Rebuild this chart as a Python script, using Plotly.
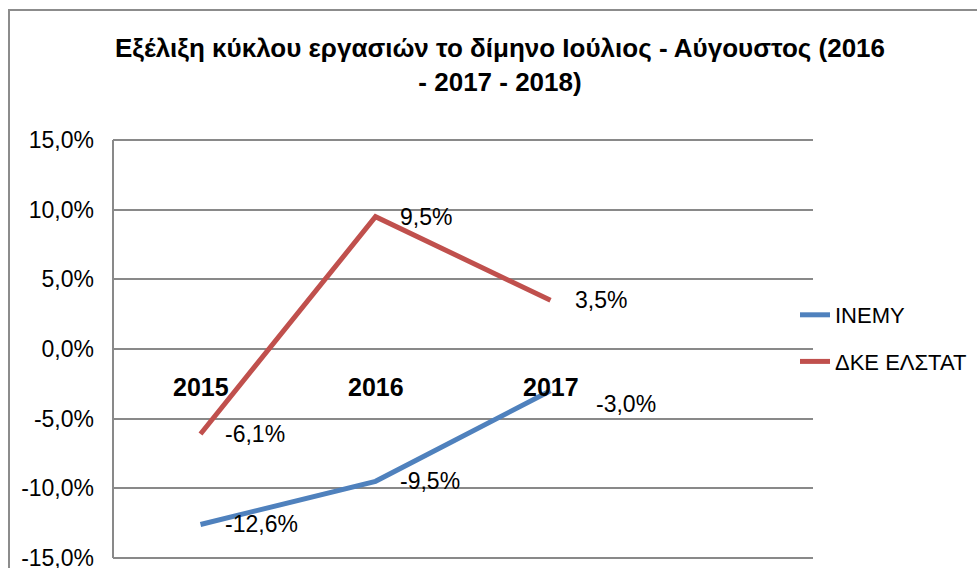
import plotly.graph_objects as go

# ---- data ----
categories = ["2015", "2016", "2017"]
inemy = [-0.126, -0.095, -0.030]
dke_elstat = [-0.061, 0.095, 0.035]
series_names = ["INEMY", "ΔΚΕ ΕΛΣΤΑΤ"]
y_tick_values = [-0.15, -0.10, -0.05, 0.0, 0.05, 0.10, 0.15]
title_line1 = "Εξέλιξη κύκλου εργασιών το δίμηνο Ιούλιος - Αύγουστος (2016"
title_line2 = "- 2017 - 2018)"

FONT = "Liberation Sans"
BLUE = "#4F81BD"
RED = "#C0504D"
GRID = "#898989"

# plot area in pixels (slightly padded so edge gridlines are kept)
PL, PR, PT, PB = 113, 813, 138, 560
W, H = 977, 568


def pct(v):
    return f"{v * 100:.1f}%".replace(".", ",")


def px_x(p):
    return (p - PL) / (PR - PL)


def px_y(p):
    return (PB - p) / (PB - PT)


fig = go.Figure()
for name, vals, col in [(series_names[0], inemy, BLUE), (series_names[1], dke_elstat, RED)]:
    fig.add_trace(go.Scatter(
        x=categories, y=vals, name=name, mode="lines",
        line=dict(color=col, width=5),
        legendgroup=name, hoverinfo="skip",
    ))

annotations = []
# data labels (x given as category index on the category axis)
label_nudges = {(0, 2): (43, -13)}  # (series, point) -> (xshift, yshift)
for si, vals in enumerate([inemy, dke_elstat]):
    for pi, v in enumerate(vals):
        xs, ys = label_nudges.get((si, pi), (22, 0))
        annotations.append(dict(
            x=pi, y=v, xref="x", yref="y", text=pct(v), showarrow=False,
            xanchor="left", yanchor="middle", xshift=xs, yshift=ys,
            font=dict(family=FONT, size=23, color="#000000"),
        ))
# category labels next to the horizontal axis (at 0)
for ci, c in enumerate(categories):
    annotations.append(dict(
        x=ci, y=0, xref="x", yref="y", text=f"<b>{c}</b>", showarrow=False,
        xanchor="center", yanchor="middle", yshift=-38,
        font=dict(family=FONT, size=25, color="#000000"),
    ))

fig.update_layout(
    width=W, height=H,
    margin=dict(l=PL, r=W - PR, t=PT, b=H - PB, autoexpand=False),
    paper_bgcolor="white", plot_bgcolor="white",
    separators=",.",
    title=dict(
        text=f"<b>{title_line1}<br>{title_line2}</b>",
        x=500 / W, xref="container", xanchor="center",
        y=1 - 57 / H, yref="container", yanchor="middle",
        font=dict(family=FONT, size=26, color="#000000"),
    ),
    xaxis=dict(
        type="category", categoryarray=categories, range=[-0.5, 3.5],
        showticklabels=False, showgrid=False, zeroline=False, showline=False,
        ticks="", automargin=False,
    ),
    yaxis=dict(
        range=[-0.1515, 0.1515], tickvals=y_tick_values,
        ticktext=[pct(v) for v in y_tick_values],
        showgrid=True, gridcolor=GRID, gridwidth=2,
        zeroline=False, showline=False, automargin=False,
        ticks="", ticklabelstandoff=18, ticklabeloverflow="allow",
        tickfont=dict(family=FONT, size=23, color="#000000"),
    ),
    legend=dict(
        x=px_x(795), xanchor="left",
        y=px_y(294), yanchor="top",
        font=dict(family=FONT, size=22, color="#000000"),
        tracegroupgap=15, traceorder="grouped",
        bgcolor="rgba(0,0,0,0)",
    ),
    showlegend=True,
    annotations=annotations,
    shapes=[
        # vertical value-axis line spanning the gridded area
        dict(type="line", xref="paper", yref="y", x0=0, x1=0,
             y0=y_tick_values[0], y1=y_tick_values[-1],
             line=dict(color=GRID, width=2)),
        # chart-area border
        dict(type="rect", xref="paper", yref="paper",
             x0=px_x(9), x1=1.6, y0=-0.5, y1=px_y(10),
             line=dict(color="#8C8C8C", width=2), fillcolor="rgba(0,0,0,0)"),
    ],
)

fig.write_html("out.html")
